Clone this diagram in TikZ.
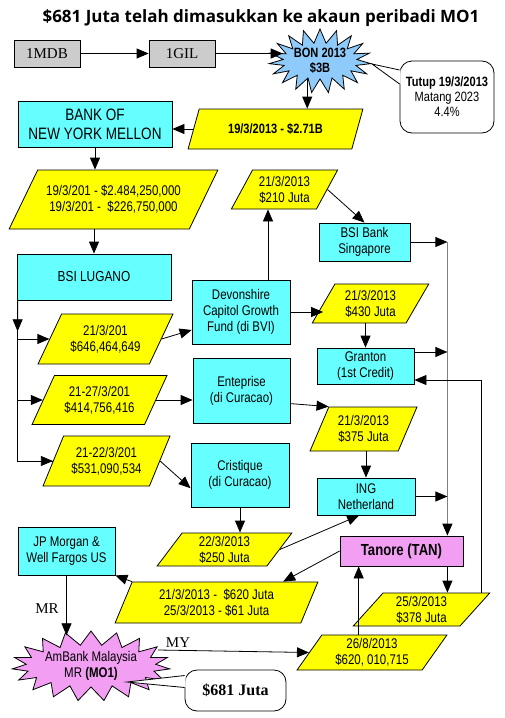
\documentclass[tikz,border=0pt]{standalone}
\usepackage{fontspec}
\setmainfont{Liberation Serif}
\newfontfamily\nar[FakeStretch=0.82]{Liberation Sans}
\newfontfamily\ttl{Open Sans}
\usetikzlibrary{shapes.geometric,shapes.symbols,arrows.meta,calc}
\definecolor{cyanc}{HTML}{66FFFF}
\definecolor{yelc}{HTML}{FFFF00}
\definecolor{grayc}{HTML}{CCCCCC}
\definecolor{bluec}{HTML}{8FCBFA}
\definecolor{pinkc}{HTML}{F29EF2}
\definecolor{trunkc}{HTML}{808080}
\tikzset{
  base/.style={draw=black, line width=0.8pt, inner sep=0pt, align=center,
    font=\nar\fontsize{14}{16}\selectfont},
  cbox/.style={base, rectangle, fill=cyanc},
  gbox/.style={base, rectangle, fill=grayc, font=\fontsize{15}{17}\selectfont},
  para/.style 2 args={base, trapezium, trapezium left angle=#1,
    trapezium right angle=#2, trapezium stretches=true, fill=yelc},
  burst/.style={base, starburst, starburst points=19, starburst point height=14pt,
    random starburst=0},
  callbox/.style={base, rectangle, rounded corners=12pt, fill=white},
  arr/.style={-{Triangle[length=12pt,width=10pt]}, line width=0.8pt},
  lbl/.style={font=\fontsize{15}{17}\selectfont, inner sep=0pt},
}
\begin{document}
\begin{tikzpicture}[x=1pt,y=-1pt]
\useasboundingbox (0,0) rectangle (504,718);
\node[font=\ttl\bfseries\fontsize{17}{20}\selectfont, inner sep=0pt] (title) at (261,18)
  {\$681 Juta telah dimasukkan ke akaun peribadi MO1};

% top row
\node[gbox, minimum width=66pt, minimum height=27pt] (mdb) at (47,53.5) {1MDB};
\node[gbox, minimum width=66pt, minimum height=27pt] (gil) at (182,53.5) {1GIL};
\node[burst, fill=bluec, minimum width=100pt, minimum height=50pt,
  font=\nar\bfseries\fontsize{13.5}{15}\selectfont] (bon) at (320,61) {BON 2013\\\$3B};
\node[callbox, minimum width=94pt, minimum height=72pt,
  font=\nar\fontsize{13.5}{15}\selectfont] (tut) at (447,97)
  {\textbf{Tutup 19/3/2013}\\Matang 2023\\4.4\%};

\node[para={58}{122}, minimum width=175pt, minimum height=40pt,
  font=\nar\bfseries\fontsize{13.5}{15}\selectfont] (p0) at (275.5,129) {19/3/2013 - \$2.71B};
\node[cbox, minimum width=154pt, minimum height=46pt,
  font=\nar\fontsize{16.5}{19}\selectfont] (bny) at (95,124) {BANK OF\\NEW YORK MELLON};
\node[para={48}{132}, minimum width=209pt, minimum height=59pt] (p1) at (113.5,199.5)
  {19/3/201 - \$2.484,250,000\\19/3/201 -\ \ \$226,750,000};
\node[cbox, minimum width=154pt, minimum height=46pt, font=\nar\fontsize{14.5}{16}\selectfont]
  (lug) at (94,277) {BSI LUGANO};

% left column of parallelograms
\node[para={56}{124}, minimum width=135pt, minimum height=50pt] (pa) at (105.5,339)
  {21/3/201\\\$646,464,649};
\node[para={58}{122}, minimum width=135pt, minimum height=49pt] (pb) at (99.5,400)
  {21-27/3/201\\\$414,756,416};
\node[para={59}{121}, minimum width=127pt, minimum height=50pt] (pc) at (106.5,461)
  {21-22/3/201\\\$531,090,534};

% middle column
\node[cbox, minimum width=98pt, minimum height=64pt] (dev) at (241,312)
  {Devonshire\\Capitol Growth\\Fund (di BVI)};
\node[cbox, minimum width=97pt, minimum height=65pt] (ent) at (241.5,390.5)
  {Enteprise\\(di Curacao)};
\node[cbox, minimum width=98pt, minimum height=64pt] (cri) at (240,475)
  {Cristique\\(di Curacao)};

\node[para={58}{122}, minimum width=107pt, minimum height=39pt] (p210) at (284.5,189.5)
  {21/3/2013\\\$210 Juta};
\node[cbox, minimum width=91pt, minimum height=38pt] (bsib) at (364.5,242)
  {BSI Bank\\Singapore};
\node[para={59}{121}, minimum width=117pt, minimum height=39pt] (p430) at (370.5,303.5)
  {21/3/2013\\\$430 Juta};
\node[cbox, minimum width=97pt, minimum height=36pt] (gra) at (365.5,366)
  {Granton\\(1st Credit)};
\node[para={63}{117}, minimum width=107pt, minimum height=44pt] (p375) at (363.5,429)
  {21/3/2013\\\$375 Juta};
\node[cbox, minimum width=98pt, minimum height=37pt] (ing) at (366,496.5)
  {ING\\Netherland};
\node[para={61}{119}, minimum width=135pt, minimum height=33pt] (p250) at (224.5,549.5)
  {22/3/2013\\\$250 Juta};

% bottom
\node[base, rectangle, fill=pinkc, minimum width=123pt, minimum height=30pt,
  font=\nar\bfseries\fontsize{16}{18}\selectfont] (tan) at (401.5,551) {Tanore (TAN)};
\node[para={54}{126}, minimum width=137pt, minimum height=33pt] (p378) at (421.5,609.5)
  {25/3/2013\\\$378 Juta};
\node[para={67}{113}, minimum width=203pt, minimum height=41pt] (p620) at (216.5,602.5)
  {21/3/2013 -\ \ \$620 Juta\\25/3/2013 - \$61 Juta};
\node[cbox, minimum width=97pt, minimum height=48pt] (jpm) at (66.5,551)
  {JP Morgan \&\\Well Fargos US};
\node[burst, fill=pinkc, minimum width=152pt, minimum height=70pt] (amb) at (91,666)
  {AmBank Malaysia\\MR \textbf{(MO1)}};
\node[para={57}{123}, minimum width=150pt, minimum height=35pt] (p6) at (372,652.5)
  {26/8/2013\\\$620, 010,715};
\node[callbox, minimum width=101pt, minimum height=41pt,
  font=\bfseries\fontsize{16}{18}\selectfont] (c681) at (235.5,690.5) {\$681 Juta};
\node[lbl] (mr) at (47,609) {MR};
\node[lbl] (my) at (178,643) {MY};

% callout tails
\coordinate (tuttip) at (372,64);
\coordinate (ta) at ([yshift=27pt]tut.west);
\coordinate (tb) at ([yshift=13pt]tut.west);
\fill[white] ([xshift=1pt]ta) -- (tuttip) -- ([xshift=1pt]tb) -- cycle;
\draw[line width=0.8pt] (ta) -- (tuttip) -- (tb);
\coordinate (ctip) at (127,682);
\coordinate (ca) at ([yshift=15pt]c681.west);
\coordinate (cb) at ([yshift=3pt]c681.west);
\fill[white] ([xshift=1pt]ca) -- (ctip) -- ([xshift=1pt]cb) -- cycle;
\draw[line width=0.8pt] (ca) -- (ctip) -- (cb);

% connectors
\draw[arr] (mdb.east) -- (gil.west);
\draw[arr] (gil.east) -- ([xshift=6pt]gil.east -| bon.west);
\draw[arr] (bon.235) -- (bon.235 |- p0.top side);
\draw[arr] (p0.left side) -- (p0.left side -| bny.east);
\draw[arr] (bny.south) -- (bny.south |- p1.top side);
\draw[arr] (lug.north |- p1.bottom side) -- (lug.north);

\coordinate (t0) at ([xshift=1pt]lug.south west);
\draw[line width=0.8pt] (t0) -- (t0 |- pc.left side) -- (pc.left side);
\draw[arr] (t0) -- ($(t0)!0.8!(t0 |- pa.left side)$);
\draw[arr] (t0 |- pa.left side) -- (pa.left side);
\draw[arr] (t0 |- pb.left side) -- (pb.left side);
\draw[arr] (t0 |- pc.left side) -- (pc.left side);

\draw[arr] (pa.right side) -- (dev.200);
\draw[arr] (pb.right side) -- (pb.right side -| ent.west);
\draw[arr] (pc.right side) -- (cri.195);

\draw[arr] ([xshift=27pt]dev.north) -- ([xshift=27pt]dev.north |- p210.bottom side);
\draw[arr] (p210.right side) -- (bsib.north);
\draw[arr] (dev.east) -- (dev.east -| p430.left side);
\draw[arr] (gra.north |- p430.bottom side) -- (gra.north);
\draw[arr] (ent.345) -- (p375.top left corner);
\draw[arr] (ing.north |- p375.bottom side) -- (ing.north);
\draw[arr] (cri.south) -- (cri.south |- p250.top side);
\draw[arr] (p250.right side) -- (ing.250);

\coordinate (r0) at ([xshift=37pt]bsib.east);
\draw[line width=1.2pt, draw=trunkc, -{Triangle[length=12pt,width=10pt,color=black]}]
  (r0) -- (r0 |- tan.north);
\draw[arr] (bsib.east) -- (r0);
\draw[arr] (gra.16) -- (gra.16 -| r0);
\draw[arr] (ing.east) -- (ing.east -| r0);
\draw[arr] (r0 |- tan.south) -- (r0 |- p378.top side);
\coordinate (q) at ([xshift=-9pt]p378.top right corner);
\draw[arr] (q) |- (gra.-16);

\draw[arr] (tan.west) -- ([xshift=58pt]p620.top side);
\draw[arr] (p620.top left corner) -- (jpm.south east);
\draw[arr] (jpm.south) -- ([yshift=-5pt]jpm.south |- amb.north);
\draw[arr] ([shift={(67,-16)}]amb.center) -- (p6.left side);
\draw[arr] ([xshift=-26pt]p6.top side) -- ([xshift=-26pt]p6.top side |- tan.south);
\end{tikzpicture}
\end{document}
